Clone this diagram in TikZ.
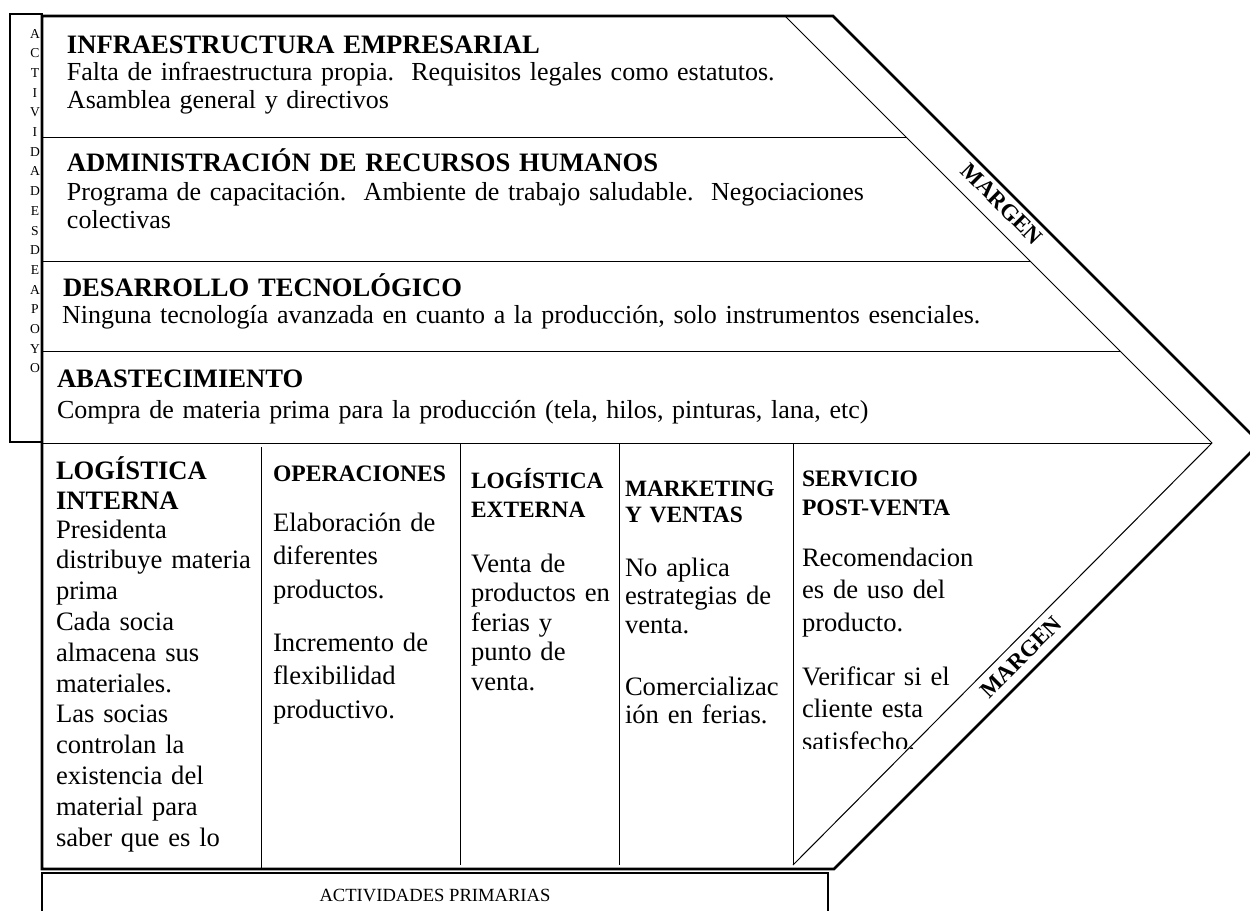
\documentclass[tikz,border=0pt]{standalone}
\usepackage{fontspec}
\setmainfont{Liberation Serif}
\newcommand\myfs[2]{\fontsize{#1}{#2}\selectfont}
\frenchspacing
\hyphenpenalty=10000
\exhyphenpenalty=10000
\begin{document}
\begin{tikzpicture}[x=0.5pt,y=-0.5pt,
  outline/.style={line width=1.4pt, line join=miter},
  rule/.style={line width=0.5pt},
  sidebox/.style={line width=0.6pt},
  blk/.style={anchor=base west, inner sep=0pt, outer sep=0pt, align=left, text width=#1},
  marg/.style={inner sep=0pt, font=\myfs{11.5}{13}\bfseries}
]
\useasboundingbox (0,0) rectangle (1250,911);
\begin{scope}
\clip (0,0) rectangle (1250,911);
% key points
\coordinate (TL) at (42,16);
\coordinate (TR) at (833,16);
\coordinate (TIP) at (1260,443);
\coordinate (BR) at (834,869);
\coordinate (BL) at (42,869);
\coordinate (ITOP) at (785,16);
\coordinate (ITIP) at (1212,443);
\coordinate (IBOT) at (793,865);

% side box (support activities)
\draw[sidebox] (10,14) rectangle (42,442);
\node[anchor=base, inner sep=0pt, align=center, text width=10pt,
      font=\myfs{6.8}{9.85}] (apoyo) at (35,38)
  {A\\C\\T\\I\\V\\I\\D\\A\\D\\E\\S\\D\\E\\A\\P\\O\\Y\\O};

% inner thin lines
\draw[rule] (ITOP) -- (ITIP) -- (IBOT);
\draw[rule] (42,137) -- (906,137);
\draw[rule] (42,261) -- (1030,261);
\draw[rule] (42,351) -- (1120,351);
\draw[rule] (42,443) -- (ITIP);
\draw[rule] (261,447) -- (261,869);
\draw[rule] (460,443) -- (460,865);
\draw[rule] (619,443) -- (619,865);
\draw[rule] (793,443) -- (IBOT);

% thick outline
\draw[outline] (TL) -- (TR) -- (TIP) -- (BR) -- (BL) -- cycle;

% bottom box
\draw[line width=0.7pt] (42,915) -- (42,873) -- (828,873) -- (828,915);
\node[font=\myfs{9.3}{11}, inner sep=0pt] (prim) at (435,895) {ACTIVIDADES PRIMARIAS};

% support activities texts
\node[blk=300pt, font=\myfs{13.3}{15}\bfseries] (h1) at (67,53) {INFRAESTRUCTURA EMPRESARIAL};
\node[blk=380pt, font=\myfs{13}{14.25}] (b1) at (67,80)
  {Falta de infraestructura propia.~ Requisitos legales como estatutos.\\Asamblea general y directivos};
\node[blk=340pt, font=\myfs{13.3}{15}\bfseries] (h2) at (67,171) {ADMINISTRACIÓN DE RECURSOS HUMANOS};
\node[blk=430pt, font=\myfs{13}{14.25}] (b2) at (67,200)
  {Programa de capacitación.~ Ambiente de trabajo saludable.~ Negociaciones\\colectivas};
\node[blk=300pt, font=\myfs{13.3}{15}\bfseries] (h3) at (63,296) {DESARROLLO TECNOLÓGICO};
\node[blk=480pt, font=\myfs{13}{14.25}] (b3) at (62,323)
  {Ninguna tecnología avanzada en cuanto a la producción, solo instrumentos esenciales.};
\node[blk=420pt, font=\myfs{13.3}{15}\bfseries] (h4) at (57,387) {ABASTECIMIENTO};
\node[blk=420pt, font=\myfs{13}{14.25}] (b4) at (57,418)
  {Compra de materia prima para la producción (tela, hilos, pinturas, lana, etc)};

% primary activities
\node[blk=100pt, font=\myfs{13.3}{15}\bfseries] (c1h) at (56,479) {LOGÍSTICA\\INTERNA};
\node[blk=100pt, font=\myfs{13.3}{15.4}] (c1b) at (56,538)
  {Presidenta\\distribuye materia\\prima\\Cada socia\\almacena sus\\materiales.\\Las socias\\controlan la\\existencia del\\material para\\saber que es lo};

\node[blk=90pt, font=\myfs{11.8}{13}\bfseries] (c2h) at (273,481) {OPERACIONES};
\node[blk=90pt, font=\myfs{13.3}{16.75}] (c2b1) at (273,531) {Elaboración de\\diferentes\\productos.};
\node[blk=90pt, font=\myfs{13.3}{16.75}] (c2b2) at (273,651) {Incremento de\\flexibilidad\\productivo.};

\node[blk=72pt, font=\myfs{11.7}{14.5}\bfseries] (c3h) at (471,488) {LOGÍSTICA\\EXTERNA};
\node[blk=72pt, font=\myfs{13.3}{14.75}] (c3b) at (471,572) {Venta de\\productos en\\ferias y\\punto de\\venta.};

\node[blk=80pt, font=\myfs{11.7}{13.35}\bfseries] (c4h) at (625,496) {MARKETING\\Y VENTAS};
\node[blk=80pt, font=\myfs{13.3}{14.25}] (c4b1) at (625,576) {No aplica\\estrategias de\\venta.};
\node[blk=80pt, font=\myfs{13.3}{14.25}] (c4b2) at (625,695) {Comercializac\\ión en ferias.};

\node[blk=85pt, font=\myfs{11.8}{14.5}\bfseries] (c5h) at (802,486) {SERVICIO\\POST-VENTA};
\node[blk=85pt, font=\myfs{13.3}{16.25}] (c5b1) at (802,566) {Recomendacion\\es de uso del\\producto.};
\begin{scope}
\clip (793,443) rectangle (1000,748);
\node[blk=85pt, font=\myfs{13.3}{16.25}] (c5b2) at (802,685) {Verificar si el\\cliente esta\\satisfecho.};
\end{scope}

% margin labels
\node[marg, rotate=-45] (m1) at (1002,204) {MARGEN};
\node[marg, rotate=45] (m2) at (1021,657) {MARGEN};
\end{scope}
\end{tikzpicture}
\end{document}
